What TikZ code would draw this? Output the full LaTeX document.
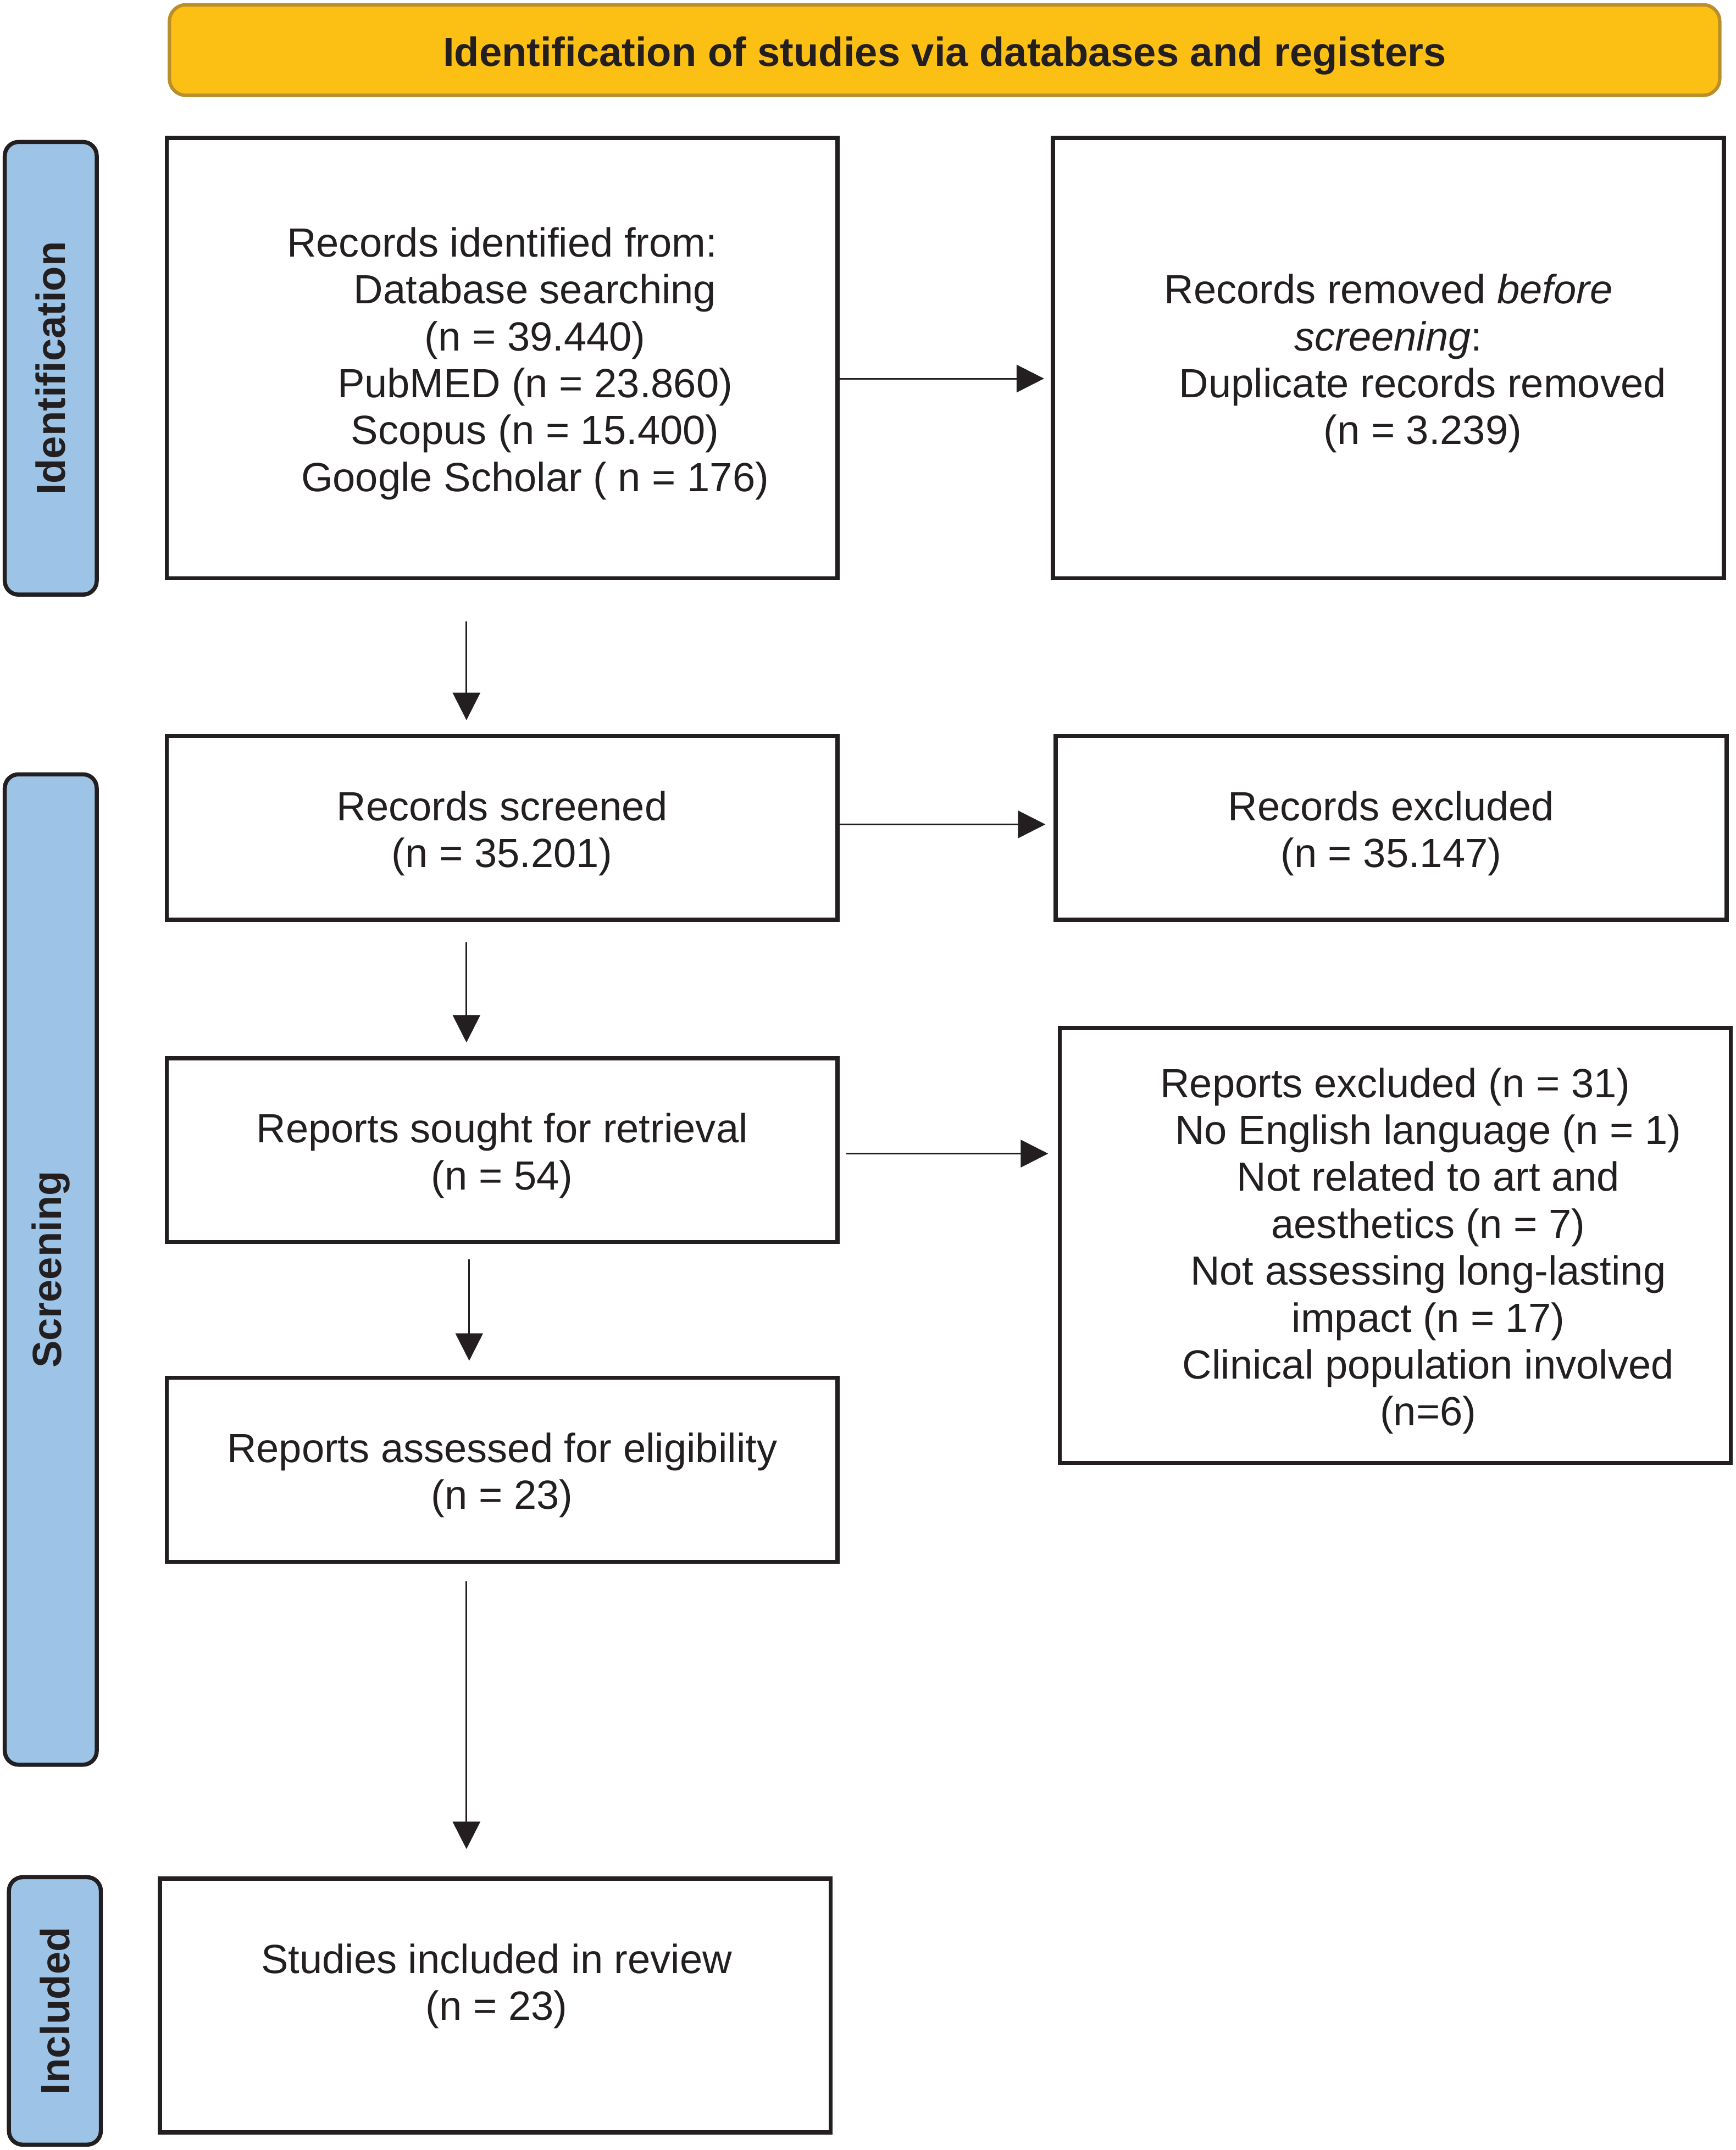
\documentclass[tikz,border=0pt]{standalone}
\usepackage{fontspec}
\setmainfont{Liberation Sans}
\usetikzlibrary{arrows.meta}
\definecolor{ink}{HTML}{231F20}
\definecolor{bannerfill}{HTML}{FCC015}
\definecolor{bannerline}{HTML}{B98E2B}
\definecolor{phasefill}{HTML}{9DC3E6}
\begin{document}
\begin{tikzpicture}[x=1pt,y=-1pt,
  txt/.style={font=\fontsize{29.7}{34.2}\selectfont, text=ink, align=center, inner sep=0pt},
  box/.style={draw=ink, line width=3pt, fill=white, inner sep=0pt},
  phase/.style={draw=ink, fill=phasefill, line width=3pt, rounded corners=10pt, rotate=90,
    font=\bfseries\fontsize{29.7}{34.2}\selectfont, text=ink, inner sep=0pt, minimum height=67pt},
  arr/.style={draw=ink, line width=1.2pt, -{Triangle[length=20pt,width=20pt]}}
]
\fill[white] (0,0) rectangle (1265,1567.4);
\useasboundingbox (0,0) rectangle (1265,1567.4);

\node[draw=bannerline, fill=bannerfill, line width=2.5pt, rounded corners=12pt,
  minimum width=1130pt, minimum height=66pt, inner sep=0pt] (banner) at (688.5,36.5) {};
\node[txt, font=\bfseries\fontsize{29.7}{34.2}\selectfont] (bannertext) at ([yshift=-4pt]banner.center)
  {Identification of studies via databases and registers};

\node[phase, minimum width=330pt] (pid) at (37,268.5) {Identification};
\node[phase, minimum width=722pt] (pscr) at (37,925.5) {Screening};
\node[phase, minimum width=195pt] (pinc) at (40,1466) {Included};

\node[box, minimum width=489pt, minimum height=321pt] (b1) at (366,261) {};
\node[txt] (t1) at ([yshift=-4pt]b1.center)
  {Records identified from:\\
   \hspace*{48pt}Database searching\\
   \hspace*{48pt}(n = 39.440)\\
   \hspace*{48pt}PubMED (n = 23.860)\\
   \hspace*{48pt}Scopus (n = 15.400)\\
   \hspace*{48pt}Google Scholar ( n = 176)};
\node[box, minimum width=489pt, minimum height=321pt] (b2) at (1012,261) {};
\node[txt] (t2) at ([yshift=-4pt]b2.center)
  {Records removed \textit{before}\\
   \textit{screening}:\\
   \hspace*{50pt}Duplicate records removed\\
   \hspace*{50pt}(n = 3.239)};
\node[box, minimum width=489pt, minimum height=134pt] (b3) at (366,603.5) {};
\node[txt] (t3) at ([yshift=-4pt]b3.center) {Records screened\\(n = 35.201)};
\node[box, minimum width=489pt, minimum height=134pt] (b4) at (1014,603.5) {};
\node[txt] (t4) at ([yshift=-4pt]b4.center) {Records excluded\\(n = 35.147)};
\node[box, minimum width=489pt, minimum height=134pt] (b5) at (366,838.5) {};
\node[txt] (t5) at ([yshift=-4pt]b5.center) {Reports sought for retrieval\\(n = 54)};
\node[box, minimum width=489pt, minimum height=317pt] (b6) at (1017,908) {};
\node[txt] (t6) at ([yshift=-4pt]b6.center)
  {Reports excluded (n = 31)\\
   \hspace*{48pt}No English language (n = 1)\\
   \hspace*{48pt}Not related to art and\\
   \hspace*{48pt}aesthetics (n = 7)\\
   \hspace*{48pt}Not assessing long-lasting\\
   \hspace*{48pt}impact (n = 17)\\
   \hspace*{48pt}Clinical population involved\\
   \hspace*{48pt}(n=6)};
\node[box, minimum width=489pt, minimum height=134pt] (b7) at (366,1071.5) {};
\node[txt] (t7) at ([yshift=-4pt]b7.center) {Reports assessed for eligibility\\(n = 23)};
\node[box, minimum width=489pt, minimum height=185pt] (b8) at (361,1462) {};
\node[txt] (t8) at (362,1448) {Studies included in review\\(n = 23)};

\draw[arr, shorten >=5pt] ([yshift=-15pt]b1.east) -- ([yshift=-15pt]b1.east -| b2.west);
\draw[arr, shorten <=30pt, shorten >=10pt] ([xshift=-26pt]b1.south) -- ([xshift=-26pt]b1.south |- b3.north);
\draw[arr, shorten >=6pt] ([yshift=2.5pt]b3.east) -- ([yshift=2.5pt]b3.east -| b4.west);
\draw[arr, shorten <=15pt, shorten >=10pt] ([xshift=-26pt]b3.south) -- ([xshift=-26pt]b3.south |- b5.north);
\draw[arr, shorten <=5pt, shorten >=7pt] ([yshift=-2.5pt]b5.east) -- ([yshift=-2.5pt]b5.east -| b6.west);
\draw[arr, shorten <=11pt, shorten >=11pt] ([xshift=-24pt]b5.south) -- ([xshift=-24pt]b5.south |- b7.north);
\draw[arr, shorten <=13pt, shorten >=20pt] ([xshift=-26pt]b7.south) -- ([xshift=-26pt]b7.south |- b8.north);
\end{tikzpicture}
\end{document}
